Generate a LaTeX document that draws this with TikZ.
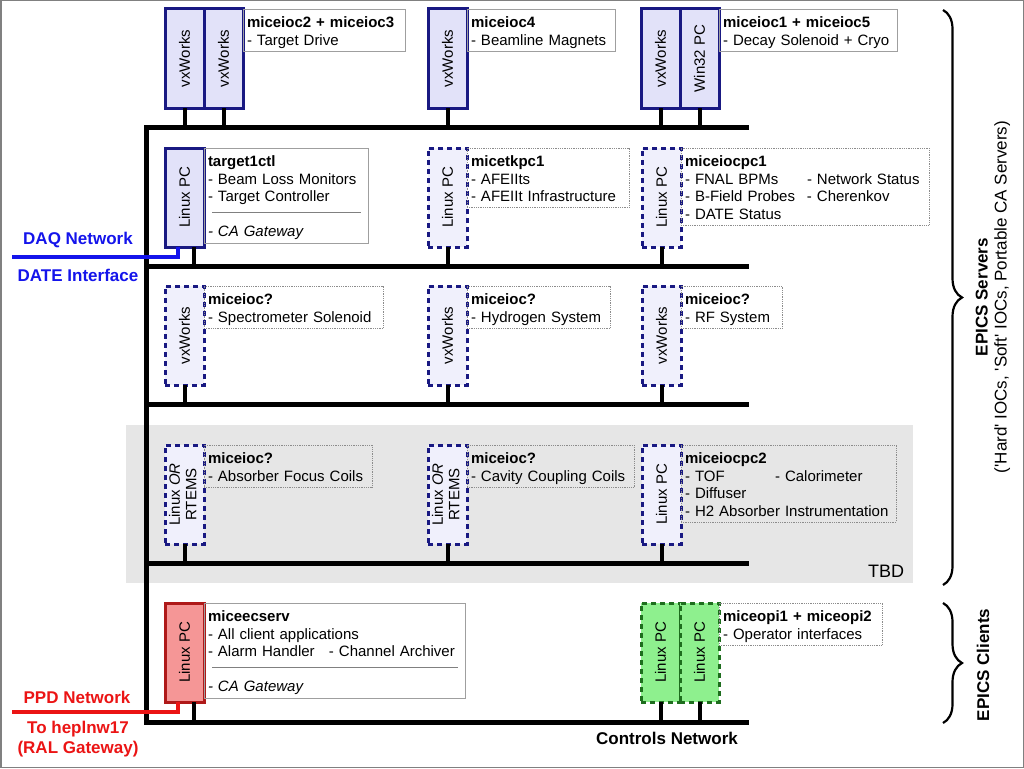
\documentclass[tikz,border=0pt]{standalone}
\usepackage{fontspec}
\setmainfont{Liberation Sans}
\usetikzlibrary{positioning,decorations.pathreplacing}

\definecolor{iocline}{RGB}{25,25,130}
\definecolor{iocfill}{RGB}{226,226,249}
\definecolor{tbcfill}{RGB}{240,240,252}
\definecolor{srvline}{RGB}{175,25,25}
\definecolor{srvfill}{RGB}{245,150,150}
\definecolor{opiline}{RGB}{30,110,30}
\definecolor{opifill}{RGB}{142,240,142}
\definecolor{daqblue}{RGB}{20,20,235}
\definecolor{ppdred}{RGB}{235,20,20}
\definecolor{tbdgray}{RGB}{230,230,230}

\newcommand{\boxtitle}[1]{\rule{0pt}{15pt}\textbf{#1}}
\newcommand{\lcol}[2]{\makebox[#1pt][l]{#2}}
\newcommand{\splitline}[1]{\hspace*{4pt}{\color{gray}\rule[6pt]{#1pt}{0.8pt}}}
\newcommand{\upright}[1]{\rotatebox{90}{#1}}

\begin{document}
\begin{tikzpicture}[x=1pt, y=-1pt,
    every node/.style={font=\fontsize{15}{17.5}\selectfont},
    bus/.style={line width=5pt},
    stem/.style={line width=4pt},
    ioc/.style={draw=iocline, fill=iocfill, line width=3pt, minimum width=39pt, minimum height=99pt, inner sep=0pt, outer sep=0pt},
    tbc/.style={ioc, fill=tbcfill, dash pattern=on 5pt off 4pt},
    srvpc/.style={ioc, draw=srvline, fill=srvfill},
    opi/.style={ioc, draw=opiline, fill=opifill, dash pattern=on 5pt off 4pt},
    info/.style={draw=gray!75, line width=0.8pt, align=left, anchor=north west, inner xsep=4pt, inner ysep=3.5pt, outer sep=0pt, execute at end node={\rule[-2.5pt]{0pt}{2.5pt}}},
    infod/.style={info, draw=gray!90, densely dotted},
    net/.style={font=\bfseries\fontsize{17}{20}\selectfont, align=center},
    brc/.style={decorate, decoration={brace, amplitude=19pt}, line width=2.2pt}
  ]
  \useasboundingbox (0,0) rectangle (1024,768);
  \draw[gray, line width=1.5pt] (0.75,0.75) rectangle (1023.25,767.25);

  % TBD area
  \fill[tbdgray] (126,425) rectangle (913,583);
  \node[font=\fontsize{18}{20}\selectfont] (tbd) at (886,571) {TBD};

  % controls network
  \coordinate (b1) at (146,127); \coordinate (b1e) at (749,127);
  \coordinate (b2) at (146,266); \coordinate (b2e) at (749,266);
  \coordinate (b3) at (146,404); \coordinate (b3e) at (749,404);
  \coordinate (b4) at (146,563); \coordinate (b4e) at (749,563);
  \coordinate (b5) at (146,722); \coordinate (b5e) at (749,722);
  \draw[bus] (b1e) -- (b1) -- (b5) -- (b5e);
  \draw[bus] (b2) -- (b2e);
  \draw[bus] (b3) -- (b3e);
  \draw[bus] (b4) -- (b4e);
  \node[net] (ctl) at (667,738) {Controls Network};

  % row 1
  \node[ioc, anchor=north west] (ioc2) at (165,9) {\upright{vxWorks}};
  \node[ioc, right=0pt of ioc2] (ioc3) {\upright{vxWorks}};
  \node[info, text width=154pt] (ioc23i) at (ioc3.north east) {\boxtitle{miceioc2 + miceioc3}\\- Target Drive};
  \node[ioc, anchor=north west] (ioc4) at (428,9) {\upright{vxWorks}};
  \node[info, text width=140pt] (ioc4i) at (ioc4.north east) {\boxtitle{miceioc4}\\- Beamline Magnets};
  \node[ioc, anchor=north west] (ioc1) at (641,9) {\upright{vxWorks}};
  \node[ioc, right=0pt of ioc1] (ioc5) {\upright{Win32 PC}};
  \node[info, text width=170pt] (ioc15i) at (ioc5.north east) {\boxtitle{miceioc1 + miceioc5}\\- Decay Solenoid + Cryo};
  \foreach \n in {ioc2,ioc3,ioc4,ioc1,ioc5}
    \draw[stem] (\n.south) -- (\n.south |- b1);

  % row 2
  \node[ioc, anchor=north west] (tgt) at (165,148) {\upright{Linux PC}};
  \node[info, text width=156pt] (tgti) at (tgt.north east) {\boxtitle{target1ctl}\\- Beam Loss Monitors\\- Target Controller\\\splitline{149}\\\textit{- CA Gateway}};
  \node[tbc, anchor=north west] (tkpc) at (428,148) {\upright{Linux PC}};
  \node[infod, text width=154pt] (tkpci) at (tkpc.north east) {\boxtitle{micetkpc1}\\- AFEIIts\\- AFEIIt Infrastructure};
  \node[tbc, anchor=north west] (pc1) at (642,148) {\upright{Linux PC}};
  \node[infod, text width=240pt] (pc1i) at (pc1.north east) {\boxtitle{miceiocpc1}\\\lcol{122}{- FNAL BPMs}- Network Status\\\lcol{122}{- B-Field Probes}- Cherenkov\\- DATE Status};
  \draw[stem] ([xshift=9pt]tgt.south) -- ([xshift=9pt]tgt.south |- b2);
  \foreach \n in {tkpc,pc1}
    \draw[stem] (\n.south) -- (\n.south |- b2);

  % DAQ link
  \coordinate (daq) at (12,257);
  \draw[daqblue, line width=4pt] ([xshift=-7pt]tgt.south) |- (daq);
  \node[net, text=daqblue] (daql) at (78,240) {DAQ Network};
  \node[net, text=daqblue] (datel) at (78,275) {DATE Interface};

  % row 3
  \node[tbc, anchor=north west] (ss) at (165,286) {\upright{vxWorks}};
  \node[infod, text width=171pt] (ssi) at (ss.north east) {\boxtitle{miceioc?}\\- Spectrometer Solenoid};
  \node[tbc, anchor=north west] (hs) at (428,286) {\upright{vxWorks}};
  \node[infod, text width=135pt] (hsi) at (hs.north east) {\boxtitle{miceioc?}\\- Hydrogen System};
  \node[tbc, anchor=north west] (rf) at (642,286) {\upright{vxWorks}};
  \node[infod, text width=93pt] (rfi) at (rf.north east) {\boxtitle{miceioc?}\\- RF System};
  \foreach \n in {ss,hs,rf}
    \draw[stem] (\n.south) -- (\n.south |- b3);

  % row 4
  \node[tbc, anchor=north west] (afc) at (165,445) {\upright{\begin{tabular}{@{}c@{}}Linux \textit{OR}\\[-1pt]RTEMS\end{tabular}}};
  \node[infod, text width=160pt] (afci) at (afc.north east) {\boxtitle{miceioc?}\\- Absorber Focus Coils};
  \node[tbc, anchor=north west] (ccc) at (428,445) {\upright{\begin{tabular}{@{}c@{}}Linux \textit{OR}\\[-1pt]RTEMS\end{tabular}}};
  \node[infod, text width=159pt] (ccci) at (ccc.north east) {\boxtitle{miceioc?}\\- Cavity Coupling Coils};
  \node[tbc, anchor=north west] (pc2) at (642,445) {\upright{Linux PC}};
  \node[infod, text width=207pt] (pc2i) at (pc2.north east) {\boxtitle{miceiocpc2}\\\lcol{90}{- TOF}- Calorimeter\\- Diffuser\\- H2 Absorber Instrumentation};
  \foreach \n in {afc,ccc,pc2}
    \draw[stem] (\n.south) -- (\n.south |- b4);

  % row 5 (clients)
  \node[srvpc, anchor=north west] (ecs) at (165,603) {\upright{Linux PC}};
  \node[info, text width=253pt] (ecsi) at (ecs.north east) {\boxtitle{miceecserv}\\- All client applications\\\lcol{121}{- Alarm Handler}- Channel Archiver\\\splitline{246}\\\textit{- CA Gateway}};
  \node[opi, anchor=north west] (opi1) at (641,603) {\upright{Linux PC}};
  \node[opi, right=0pt of opi1] (opi2) {\upright{Linux PC}};
  \node[infod, text width=155pt] (opii) at (opi2.north east) {\boxtitle{miceopi1 + miceopi2}\\- Operator interfaces};
  \draw[stem] ([xshift=9pt]ecs.south) -- ([xshift=9pt]ecs.south |- b5);
  \foreach \n in {opi1,opi2}
    \draw[stem] (\n.south) -- (\n.south |- b5);

  % PPD link
  \coordinate (ppd) at (12,712);
  \draw[ppdred, line width=4pt] ([xshift=-7pt]ecs.south) |- (ppd);
  \node[net, text=ppdred] (ppdl) at (77,697) {PPD Network};
  \node[net, text=ppdred] (ral) at (78,739) {To heplnw17\\(RAL Gateway)};

  % braces
  \coordinate (s1) at (943,10); \coordinate (s2) at (943,585);
  \coordinate (c1) at (943,603); \coordinate (c2) at (943,723);
  \draw[brc] (s1) -- (s2);
  \draw[brc] (c1) -- (c2);
  \node[rotate=90, align=center, font=\fontsize{17}{19}\selectfont] (srv) at (993,297) {\textbf{EPICS Servers}\\(\textquotesingle Hard\textquotesingle\ IOCs, \textquotesingle Soft\textquotesingle\ IOCs, Portable CA Servers)};
  \node[rotate=90, net] (cli) at (983,665) {EPICS Clients};
\end{tikzpicture}
\end{document}
